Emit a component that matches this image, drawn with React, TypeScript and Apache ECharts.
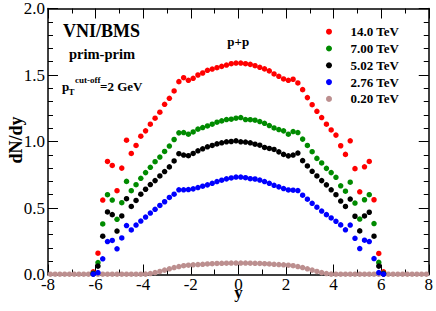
import React, { useEffect, useRef } from 'react';
import * as echarts from 'echarts';

const SERIF = "'Liberation Serif', 'Times New Roman', Times, serif";
const TICK_FONT = 'Liberation Serif';

const rapidity = [
  -6.1, -5.9, -5.7, -5.5, -5.3, -5.1, -4.9, -4.7, -4.5, -4.3, -4.1, -3.9, -3.7, -3.5, -3.3, -3.1,
  -2.9, -2.7, -2.5, -2.3, -2.1, -1.9, -1.7, -1.5, -1.3, -1.1, -0.9, -0.7, -0.5, -0.3, -0.1,
  0.1, 0.3, 0.5, 0.7, 0.9, 1.1, 1.3, 1.5, 1.7, 1.9, 2.1, 2.3, 2.5, 2.7, 2.9,
  3.1, 3.3, 3.5, 3.7, 3.9, 4.1, 4.3, 4.5, 4.7, 4.9, 5.1, 5.3, 5.5, 5.7, 5.9, 6.1,
];

const rapidityWide = [
  -7.9, -7.7, -7.5, -7.3, -7.1, -6.9, -6.7, -6.5, -6.3,
  ...rapidity,
  6.3, 6.5, 6.7, 6.9, 7.1, 7.3, 7.5, 7.7, 7.9,
];

const tev140 = [
  0.02, 0.16, 0.56, 0.85, 0.82, 0.63, 0.80, 1.01, 0.91, 0.97, 1.04, 1.08, 1.13, 1.175, 1.22, 1.28,
  1.325, 1.38, 1.45, 1.48, 1.46, 1.475, 1.50, 1.515, 1.535, 1.545, 1.555, 1.565, 1.575, 1.585, 1.59,
  1.59, 1.585, 1.58, 1.57, 1.558, 1.546, 1.531, 1.508, 1.49, 1.47, 1.46, 1.468, 1.44, 1.39, 1.33,
  1.277, 1.227, 1.18, 1.13, 1.087, 1.048, 0.968, 0.903, 1.005, 0.796, 0.622, 0.81, 0.85, 0.562, 0.158, 0.02,
];

const tev700 = [
  0.01, 0.09, 0.38, 0.60, 0.56, 0.415, 0.54, 0.70, 0.63, 0.675, 0.723, 0.766, 0.806, 0.848, 0.883, 0.925,
  0.966, 1.015, 1.065, 1.067, 1.055, 1.072, 1.093, 1.105, 1.117, 1.13, 1.145, 1.155, 1.165, 1.168, 1.175,
  1.18, 1.165, 1.164, 1.16, 1.15, 1.137, 1.12, 1.102, 1.09, 1.08, 1.055, 1.075, 1.067, 1.018, 0.97,
  0.923, 0.873, 0.839, 0.798, 0.766, 0.731, 0.667, 0.626, 0.694, 0.537, 0.417, 0.562, 0.60, 0.383, 0.091, 0.01,
];

const tev502 = [
  0.005, 0.063, 0.288, 0.47, 0.45, 0.327, 0.44, 0.57, 0.512, 0.557, 0.604, 0.641, 0.676, 0.706, 0.741, 0.774,
  0.809, 0.854, 0.908, 0.898, 0.893, 0.91, 0.93, 0.945, 0.96, 0.97, 0.982, 0.99, 0.998, 1.0, 1.005,
  0.998, 0.996, 0.99, 0.98, 0.972, 0.955, 0.948, 0.94, 0.922, 0.903, 0.892, 0.898, 0.913, 0.856, 0.816,
  0.776, 0.741, 0.706, 0.674, 0.637, 0.60, 0.552, 0.512, 0.567, 0.438, 0.328, 0.44, 0.468, 0.288, 0.063, 0.005,
];

const tev276 = [
  0.003, 0.014, 0.118, 0.248, 0.256, 0.193, 0.275, 0.368, 0.335, 0.372, 0.402, 0.432, 0.462, 0.49, 0.519, 0.547,
  0.579, 0.604, 0.637, 0.637, 0.639, 0.644, 0.654, 0.664, 0.674, 0.686, 0.699, 0.709, 0.719, 0.726, 0.733,
  0.733, 0.728, 0.72, 0.718, 0.71, 0.699, 0.686, 0.671, 0.659, 0.646, 0.636, 0.634, 0.631, 0.596, 0.566,
  0.535, 0.506, 0.477, 0.45, 0.425, 0.40, 0.373, 0.336, 0.372, 0.272, 0.195, 0.258, 0.248, 0.12, 0.014, 0.003,
];

const tev020 = [
  0.002, 0.002, 0.002, 0.002, 0.002, 0.002, 0.002, 0.002, 0.002, 0.002,
  0.002, 0.002, 0.002, 0.002, 0.002, 0.002, 0.002, 0.002, 0.002, 0.002,
  0.003, 0.007, 0.014, 0.023, 0.033, 0.043, 0.052, 0.06, 0.066, 0.07,
  0.073, 0.075, 0.077, 0.079, 0.081, 0.083, 0.084, 0.085, 0.086, 0.086,
  0.086, 0.086, 0.085, 0.084, 0.083, 0.081, 0.079, 0.077, 0.075, 0.073,
  0.07, 0.066, 0.06, 0.052, 0.043, 0.033, 0.023, 0.014, 0.007, 0.003,
  0.002, 0.002, 0.002, 0.002, 0.002, 0.002, 0.002, 0.002, 0.002, 0.002,
  0.002, 0.002, 0.002, 0.002, 0.002, 0.002, 0.002, 0.002, 0.002, 0.002,
];

const seriesNames = ['14.0 TeV', '7.00 TeV', '5.02 TeV', '2.76 TeV', '0.20 TeV'];
const seriesColors = ['#ff0000', '#008b00', '#000000', '#0000ff', '#bc8f8f'];

const pair = (xs: number[], ys: number[]) => xs.map((x, i) => [x, ys[i]]);

const tickStyle = { color: '#000', width: 1 };

function xAxisDef(position: 'bottom' | 'top', showLabel: boolean) {
  return {
    type: 'value',
    position,
    min: -8,
    max: 8,
    interval: 2,
    axisLine: { show: true, onZero: false, lineStyle: { color: '#000', width: 1.5 } },
    axisTick: { show: true, inside: true, length: 10, lineStyle: tickStyle },
    minorTick: { show: true, splitNumber: 2, length: 5, lineStyle: tickStyle },
    splitLine: { show: false },
    minorSplitLine: { show: false },
    axisLabel: { show: showLabel, color: '#000', fontFamily: TICK_FONT, fontSize: 17, margin: 1.5 },
  };
}

function yAxisDef(position: 'left' | 'right', showLabel: boolean) {
  return {
    type: 'value',
    position,
    min: 0,
    max: 2,
    interval: 0.5,
    axisLine: { show: true, onZero: false, lineStyle: { color: '#000', width: 1.5 } },
    axisTick: { show: true, inside: true, length: 10, lineStyle: tickStyle },
    minorTick: { show: true, splitNumber: 5, length: 5, lineStyle: tickStyle },
    splitLine: { show: false },
    minorSplitLine: { show: false },
    axisLabel: {
      show: showLabel,
      color: '#000',
      fontFamily: TICK_FONT,
      fontSize: 17,
      margin: 3,
      formatter: (v: number) => v.toFixed(1),
    },
  };
}

function txt(text: string, x: number, y: number, size: number, extra: any = {}) {
  return {
    type: 'text',
    x,
    y,
    z: 100,
    ...extra,
    style: {
      text,
      fill: '#000',
      fontFamily: SERIF,
      fontWeight: 'bold',
      fontSize: size,
      align: extra.align || 'left',
      verticalAlign: 'middle',
    },
  };
}

export default function App() {
  const ref = useRef<HTMLDivElement>(null);
  useEffect(() => {
    document.body.style.margin = '0';
    const chart = echarts.init(ref.current!, null, { renderer: 'svg' });
    const scatter = (idx: number, xs: number[], ys: number[]) => ({
      name: seriesNames[idx],
      type: 'scatter',
      symbol: 'circle',
      symbolSize: 5.5,
      itemStyle: { color: seriesColors[idx], opacity: 1 },
      data: pair(xs, ys),
    });
    chart.setOption({
      animation: false,
      backgroundColor: '#fff',
      textStyle: { fontFamily: TICK_FONT },
      grid: { left: 48, right: 7, top: 6, bottom: 36.5 },
      xAxis: [xAxisDef('bottom', true), xAxisDef('top', false)],
      yAxis: [yAxisDef('left', true), yAxisDef('right', false)],
      legend: {
        data: seriesNames,
        orient: 'vertical',
        left: 326,
        top: 24.7,
        padding: 0,
        itemWidth: 33,
        itemHeight: 6,
        itemGap: 2.8,
        icon: 'circle',
        selectedMode: false,
        textStyle: {
          fontFamily: SERIF,
          fontWeight: 'bold',
          fontSize: 13,
          lineHeight: 14,
          color: '#000',
        },
      },
      graphic: [
        txt('VNI/BMS', 63, 31, 18),
        txt('prim-prim', 69, 53.7, 14.5),
        txt('p', 62, 86.6, 13),
        txt('T', 68.5, 92.4, 9),
        txt('cut-off', 75, 79.6, 9),
        txt('=2 GeV', 100, 86.6, 13),
        txt('p+p', 238.3, 41, 13, { align: 'center' }),
        txt('y', 238.5, 292, 17, { align: 'center' }),
        txt('dN/dy', 15.5, 140, 18, { align: 'center', rotation: Math.PI / 2 }),
      ],
      series: [
        scatter(4, rapidityWide, tev020),
        scatter(0, rapidity, tev140),
        scatter(1, rapidity, tev700),
        scatter(2, rapidity, tev502),
        scatter(3, rapidity, tev276),
      ],
    });
    return () => chart.dispose();
  }, []);
  return <div ref={ref} style={{ width: 436, height: 311 }} />;
}
